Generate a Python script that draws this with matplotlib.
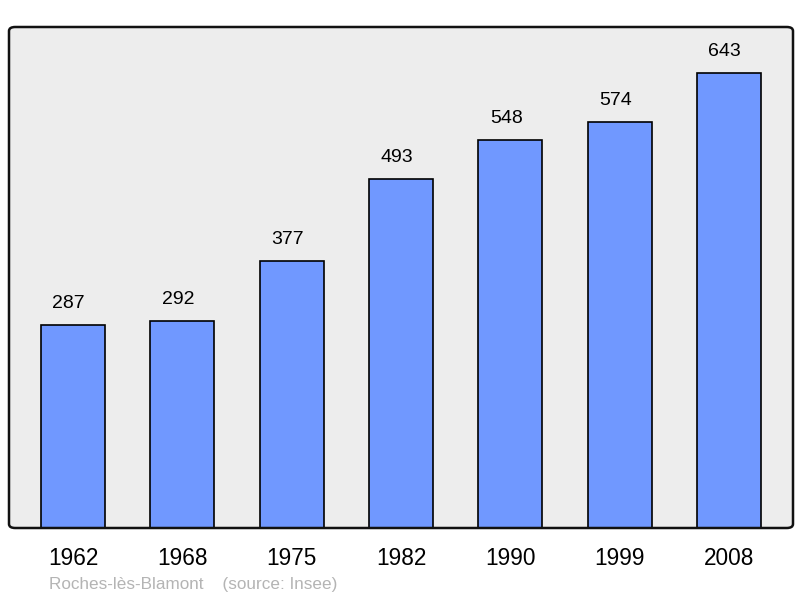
import matplotlib.pyplot as plt
from matplotlib.patches import FancyBboxPatch

years = ['1962', '1968', '1975', '1982', '1990', '1999', '2008']
population = [287, 292, 377, 493, 548, 574, 643]

plt.rcParams['font.family'] = ['Liberation Sans', 'DejaVu Sans']

fig = plt.figure(figsize=(8, 5.98), dpi=100)
ax = fig.add_axes([9 / 800, 70 / 598, 784 / 800, 501 / 598])
ax.set_facecolor('#ededed')

x = range(len(years))
bars = ax.bar(x, population, width=0.585, color='#7098ff', edgecolor='black', linewidth=1.2, zorder=2)
for xi, v in zip(x, population):
    ax.annotate(str(v), (xi, v), xytext=(-3, 15.5), textcoords='offset points',
                ha='center', va='center', fontsize=14)

ax.set_xlim(-0.585, 6.585)
ax.set_ylim(0, 708)
ax.set_xticks(list(x))
ax.set_xticklabels(years, fontsize=16.3)
ax.tick_params(axis='x', length=0, pad=14)
ax.set_yticks([])
for s in ax.spines.values():
    s.set_visible(False)

# rounded frame around the plot area
frame = FancyBboxPatch((0, 0), 1, 1, boxstyle='round,pad=0,rounding_size=0.008',
                       transform=ax.transAxes, fill=False, edgecolor='#111111',
                       linewidth=1.8, zorder=5, clip_on=False)
ax.add_patch(frame)

fig.text(49 / 800, 1 - 584 / 598, 'Roches-lès-Blamont    (source: Insee)',
         color='#b4b4b4', fontsize=12.3, va='center', ha='left')

fig.savefig('out.png', dpi=100)
